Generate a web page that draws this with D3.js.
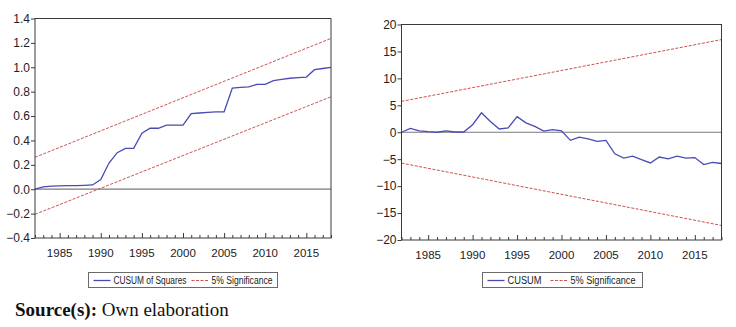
<!DOCTYPE html>
<html>
<head>
<meta charset="utf-8">
<script src="https://cdn.jsdelivr.net/npm/d3@7"></script>
<style>
  body { margin: 0; background: #fff; }
  svg { display: block; font-family: "Liberation Sans", Arial, sans-serif; }
  .frame { fill: none; stroke: #3a3a3a; stroke-width: 1; }
  .zero { stroke: #7a7a7a; stroke-width: 1.2; }
  .series { fill: none; stroke: #4a4ab4; stroke-width: 1.3; }
  .band { fill: none; stroke: #d05050; stroke-width: 1; stroke-dasharray: 3,1.5; }
  .axis text { font-size: 12px; fill: #222; }
  .axis path { display: none; }
  .axis line { stroke: #3a3a3a; }
  .legend rect { fill: #fff; stroke: #6a6a6a; }
  .legend text { font-size: 10px; fill: #222; }
</style>
</head>
<body>
<div id="chart"></div>
<script>
// years of the recursive estimation
var years = [1982, 1983, 1984, 1985, 1986, 1987, 1988, 1989, 1990, 1991,
             1992, 1993, 1994, 1995, 1996, 1997, 1998, 1999, 2000, 2001,
             2002, 2003, 2004, 2005, 2006, 2007, 2008, 2009, 2010, 2011,
             2012, 2013, 2014, 2015, 2016, 2017, 2018];

// CUSUM of squares (left panel)
var cusumSq = [0.00, 0.02, 0.025, 0.028, 0.03, 0.03, 0.032, 0.035, 0.08, 0.215,
               0.30, 0.335, 0.335, 0.46, 0.50, 0.50, 0.525, 0.525, 0.525, 0.62,
               0.625, 0.63, 0.635, 0.635, 0.83, 0.835, 0.84, 0.86, 0.86, 0.89,
               0.90, 0.91, 0.915, 0.92, 0.98, 0.99, 1.00];

// CUSUM (right panel)
var cusum = [0, 0.7, 0.25, 0.1, 0, 0.25, 0.05, 0.05, 1.4, 3.6,
             2.0, 0.6, 0.8, 2.9, 1.75, 1.1, 0.2, 0.5, 0.25, -1.5,
             -0.9, -1.25, -1.7, -1.5, -4.0, -4.8, -4.45, -5.1, -5.7, -4.6,
             -4.95, -4.45, -4.8, -4.7, -6.0, -5.6, -5.8];

// 5% significance bounds, at first and last year
var boundYears = [1982, 2018];
var sqUpper = [0.262, 1.237];
var sqLower = [-0.206, 0.758];
var cuUpper = [5.73, 17.2];
var cuLower = [-5.73, -17.3];

var xTickLabels = [1985, 1990, 1995, 2000, 2005, 2010, 2015];
var sqTicks = [-0.4, -0.2, 0.0, 0.2, 0.4, 0.6, 0.8, 1.0, 1.2, 1.4];
var cuTicks = [-20, -15, -10, -5, 0, 5, 10, 15, 20];

var svg = d3.select("#chart").append("svg")
    .attr("width", 736)
    .attr("height", 327);

function drawPanel(opt) {
    var g = svg.append("g")
        .attr("transform", "translate(" + opt.left + "," + opt.top + ")");

    var x = d3.scaleLinear().domain([1982, 2018]).range([0, opt.width]);
    var y = d3.scaleLinear().domain(opt.yDomain).range([opt.height, 0]);

    // zero line
    g.append("line")
        .attr("class", "zero")
        .attr("x1", 0).attr("x2", opt.width)
        .attr("y1", y(0)).attr("y2", y(0));

    var line = d3.line()
        .x(function(d) { return x(d[0]); })
        .y(function(d) { return y(d[1]); });

    // significance bounds
    [opt.upper, opt.lower].forEach(function(b) {
        g.append("path")
            .attr("class", "band")
            .attr("d", line(boundYears.map(function(yr, i) { return [yr, b[i]]; })));
    });

    g.append("path")
        .attr("class", "series")
        .attr("d", line(years.map(function(yr, i) { return [yr, opt.values[i]]; })));

    // y axis, ticks outside
    g.append("g")
        .attr("class", "axis")
        .call(d3.axisLeft(y).tickValues(opt.yTicks).tickSize(4).tickPadding(1)
            .tickFormat(opt.fmt));

    // x axis: yearly ticks pointing inward, labels below
    var xa = g.append("g")
        .attr("class", "axis")
        .attr("transform", "translate(0," + opt.height + ")");
    xa.call(d3.axisBottom(x).tickValues(years).tickSize(-3).tickFormat(""));
    xa.selectAll(".tick line").attr("y2", function(d) { return xTickLabels.indexOf(d) >= 0 ? -5 : -3; });
    xa.selectAll(".lbl")
        .data(xTickLabels)
        .enter().append("text")
        .attr("class", "lbl")
        .attr("x", function(d) { return x(d); })
        .attr("y", 19)
        .attr("text-anchor", "middle")
        .style("font-size", "11.5px")
        .text(function(d) { return d; });

    g.append("rect")
        .attr("class", "frame")
        .attr("width", opt.width)
        .attr("height", opt.height);

    // legend
    var L = opt.legend;
    var lg = svg.append("g")
        .attr("class", "legend")
        .attr("transform", "translate(" + L.x + "," + L.y + ")");
    lg.append("rect").attr("width", L.w).attr("height", 15);
    lg.append("line").attr("class", "series")
        .attr("x1", 5).attr("x2", 22).attr("y1", 8).attr("y2", 8);
    lg.append("text").attr("x", 25).attr("y", 11.5)
        .attr("textLength", L.len1).attr("lengthAdjust", "spacingAndGlyphs")
        .text(L.label);
    lg.append("line").attr("class", "band")
        .attr("x1", L.x2).attr("x2", L.x2 + 17).attr("y1", 8).attr("y2", 8);
    lg.append("text").attr("x", L.x2 + 20).attr("y", 11.5)
        .attr("textLength", L.len2).attr("lengthAdjust", "spacingAndGlyphs")
        .text("5% Significance");
}

drawPanel({
    left: 35, top: 18.5, width: 296, height: 219.5,
    yDomain: [-0.4, 1.4], yTicks: sqTicks,
    fmt: d3.format(".1f"),
    values: cusumSq, upper: sqUpper, lower: sqLower,
    legend: { x: 88.5, y: 272.5, w: 189, label: "CUSUM of Squares", x2: 103, len1: 73, len2: 61 }
});

drawPanel({
    left: 401.5, top: 24.5, width: 320, height: 215.5,
    yDomain: [-20, 20], yTicks: cuTicks,
    fmt: d3.format("d"),
    values: cusum, upper: cuUpper, lower: cuLower,
    legend: { x: 482.5, y: 272.5, w: 160, label: "CUSUM", x2: 68, len1: 34, len2: 65 }
});

// source note
var src = svg.append("text")
    .attr("x", 15)
    .attr("y", 316)
    .style("font-family", "'Liberation Serif', 'Times New Roman', serif")
    .style("font-size", "19px")
    .style("fill", "#111");
src.append("tspan").style("font-weight", "bold").text("Source(s):");
src.append("tspan").text(" Own elaboration");
</script>
</body>
</html>
